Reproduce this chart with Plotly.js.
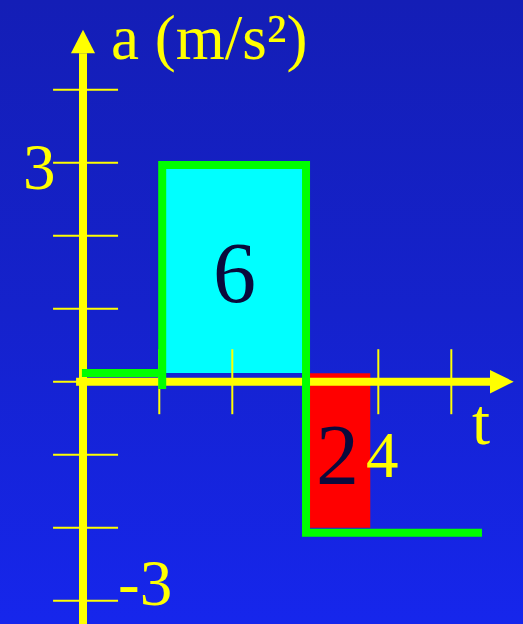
<!DOCTYPE html>
<html>
<head>
<meta charset="utf-8">
<script src="https://cdn.plot.ly/plotly-3.0.1.min.js"></script>
<style>
  html, body { margin: 0; padding: 0; }
  #chart { width: 523px; height: 624px; background: linear-gradient(to bottom, #141EB6 0%, #1522CC 50%, #1626EC 100%); }
</style>
</head>
<body>
<div id="chart"></div>
<script>
// ---- data ----
// acceleration step graph a(t)
const stepT = [-0.06, 1.04, 1.04, 1.04, 3.01, 3.01, 5.42];
const stepA = [0.12, 0.12, -0.10, 2.97, 2.97, -2.07, -2.07];
// shaded areas (area under the curve)
const posAreaT = [1.04, 3.01, 3.01, 1.04];
const posAreaA = [0.12, 0.12, 2.97, 2.97];
const negAreaT = [3.01, 3.89, 3.89, 3.01];
const negAreaA = [0.115, 0.115, -2.0, -2.0];
// tick positions
const yTickVals = [-3, -2, -1, 0, 1, 2, 3, 4];
const xTickVals = [1, 2, 3, 4, 5];
// axis extents
const xAxisT = [-0.14, 5.53];
const yAxisA = [-3.5, 4.5];
const yAxisAt = -0.045;
const yTickAt = -0.01;
const xArrowTip = 5.855, xArrowHalf = 0.16;
const yArrowTip = 4.82, yArrowHalf = 0.165;
// labels
const labels = [
  {text: 'a (m/s<span style="font-size:66px">²</span>)', t: 0.33, a: 4.73, size: 63, color: '#FFFF00', anchor: 'left'},
  {text: '3', t: -0.64, a: 2.94, size: 65, color: '#FFFF00', anchor: 'center'},
  {text: '-3', t: 0.80, a: -2.76, size: 65, color: '#FFFF00', anchor: 'center'},
  {text: 't', t: 5.41, a: -0.55, size: 65, color: '#FFFF00', anchor: 'center'},
  {text: '4', t: 4.06, a: -1.0, size: 65, color: '#FFFF00', anchor: 'center'},
  {text: '6', t: 2.03, a: 1.49, size: 86, color: '#0A0A3C', anchor: 'center'},
  {text: '2', t: 3.44, a: -1.0, size: 86, color: '#0A0A3C', anchor: 'center'}
];

const yellow = '#FFFF00';
const tickSize = 65 / 1.4;

const traces = [
  {x: posAreaT, y: posAreaA, mode: 'none', fill: 'toself', fillcolor: '#00FFFF', hoverinfo: 'skip'},
  {x: negAreaT, y: negAreaA, mode: 'none', fill: 'toself', fillcolor: '#FF0000', hoverinfo: 'skip'},
  // x axis line
  {x: xAxisT, y: [0, 0], mode: 'lines', line: {color: yellow, width: 8}, hoverinfo: 'skip'},
  // y axis line
  {x: [yAxisAt, yAxisAt], y: yAxisA, mode: 'lines', line: {color: yellow, width: 8}, hoverinfo: 'skip'},
  // arrowheads
  {x: [xAxisT[1], xArrowTip, xAxisT[1]], y: [xArrowHalf, 0, -xArrowHalf], mode: 'none', fill: 'toself', fillcolor: yellow, hoverinfo: 'skip'},
  {x: [yAxisAt - yArrowHalf, yAxisAt, yAxisAt + yArrowHalf], y: [yAxisA[1], yArrowTip, yAxisA[1]], mode: 'none', fill: 'toself', fillcolor: yellow, hoverinfo: 'skip'},
  // y ticks
  {x: yTickVals.map(() => yTickAt), y: yTickVals, mode: 'markers',
   marker: {symbol: 'line-ew', size: tickSize, line: {color: yellow, width: 2}}, hoverinfo: 'skip'},
  // x ticks
  {x: xTickVals, y: xTickVals.map(() => 0), mode: 'markers',
   marker: {symbol: 'line-ns', size: tickSize, line: {color: yellow, width: 2}}, hoverinfo: 'skip'},
  // step graph
  {x: stepT, y: stepA, mode: 'lines', line: {color: '#00FF00', width: 8}, hoverinfo: 'skip'}
];

const annotations = labels.map(l => ({
  text: l.text, x: l.t, y: l.a, xref: 'x', yref: 'y', showarrow: false,
  xanchor: l.anchor, yanchor: 'middle', borderpad: 0,
  font: {family: 'Liberation Serif, Times New Roman, serif', size: l.size, color: l.color}
}));

const layout = {
  width: 523, height: 624,
  margin: {l: 0, r: 0, t: 0, b: 0},
  paper_bgcolor: 'rgba(0,0,0,0)', plot_bgcolor: 'rgba(0,0,0,0)',
  showlegend: false,
  xaxis: {range: [-1.182, 5.982], visible: false, fixedrange: true},
  yaxis: {range: [-3.319, 5.229], visible: false, fixedrange: true},
  annotations: annotations
};

Plotly.newPlot('chart', traces, layout, {displayModeBar: false, staticPlot: true});
</script>
</body>
</html>
